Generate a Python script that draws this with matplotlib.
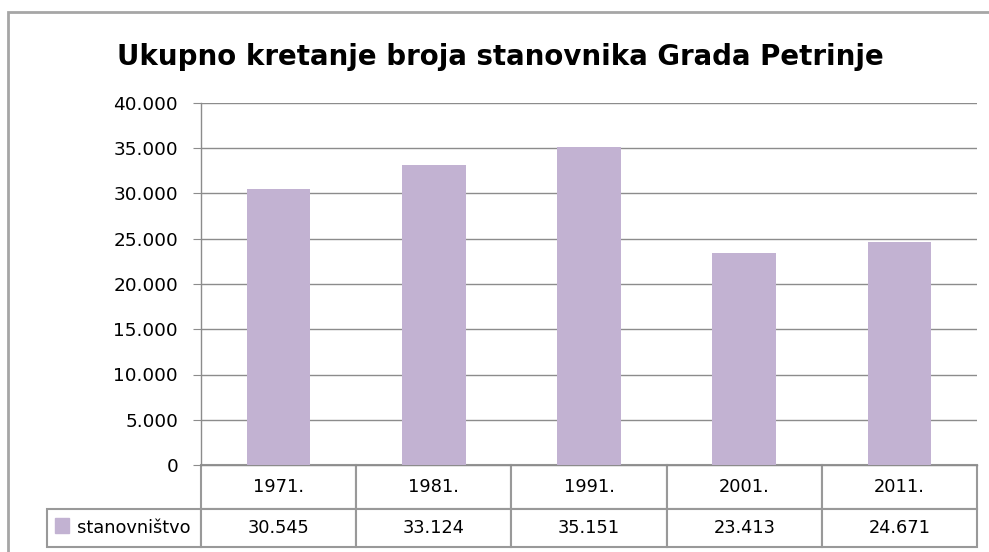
import numpy as np
import matplotlib.pyplot as plt
from matplotlib.patches import Rectangle
from matplotlib.ticker import FuncFormatter

godine = ['1971.', '1981.', '1991.', '2001.', '2011.']
stanovnistvo = [30545, 33124, 35151, 23413, 24671]
serija = 'stanovništvo'
naslov = 'Ukupno kretanje broja stanovnika Grada Petrinje'

W, H = 989, 552
boja = '#C2B2D2'
siva = '#8C8C8C'

plt.rcParams['font.family'] = ['DejaVu Sans']

fig = plt.figure(figsize=(W / 100, H / 100), dpi=100)

# plot area in pixel coordinates
x0, x1 = 201, 977
y_top, y_bot = 103, 465
ax = fig.add_axes([x0 / W, 1 - y_bot / H, (x1 - x0) / W, (y_bot - y_top) / H])

x = np.arange(len(godine))
ax.bar(x, stanovnistvo, width=0.41, color=boja, zorder=3)
ax.set_xlim(-0.5, len(godine) - 0.5)
ax.set_ylim(0, 40000)
ax.set_yticks(np.arange(0, 40001, 5000))
ax.yaxis.set_major_formatter(FuncFormatter(lambda v, p: f'{int(v):,}'.replace(',', '.')))
ax.yaxis.grid(True, color=siva, linewidth=1, zorder=0)
ax.tick_params(axis='y', length=6, color=siva, labelsize=13.3, pad=10.5)
ax.set_xticks([])
for s in ['top', 'right']:
    ax.spines[s].set_visible(False)
for s in ['left', 'bottom']:
    ax.spines[s].set_color(siva)
    ax.spines[s].set_linewidth(1)

# data table underneath
lx = 47
tb = 547
bbox = [(lx - x0) / (x1 - x0), -(tb - y_bot) / (y_bot - y_top),
        (x1 - lx) / (x1 - x0), (tb - y_bot) / (y_bot - y_top)]
vrijednosti = [f'{v:,}'.replace(',', '.') for v in stanovnistvo]
sirine = [(x0 - lx) / (x1 - lx)] + [(x1 - x0) / len(godine) / (x1 - lx)] * len(godine)
tab = ax.table(cellText=[[''] + godine, ['     ' + serija] + vrijednosti],
               colWidths=sirine, cellLoc='center', bbox=bbox)
tab.auto_set_font_size(False)
tab.set_fontsize(12.8)
for (r, c), cell in tab.get_celld().items():
    cell.set_edgecolor('#999999')
    cell.set_linewidth(1.5)
    cell.set_height(44 if r == 0 else 38)
    if r == 0 and c == 0:
        cell.visible_edges = ''
    if r == 1 and c == 0:
        cell.set_text_props(ha='left')
        cell.PAD = 0.01

# legend swatch in the row label cell
fig.patches.append(Rectangle((55 / W, 1 - 533 / H), 14 / W, 15 / H,
                             transform=fig.transFigure, color=boja))

# outer chart border
fig.patches.append(Rectangle((8 / W, -0.1), 1.1, 1 - 12 / H + 0.1,
                             transform=fig.transFigure, fill=False,
                             edgecolor='#A6A6A6', linewidth=2))

fig.text(500 / W, 1 - 57 / H, naslov, ha='center', va='center',
         fontsize=19.9, fontweight='bold')

fig.savefig('out.png', dpi=100)
